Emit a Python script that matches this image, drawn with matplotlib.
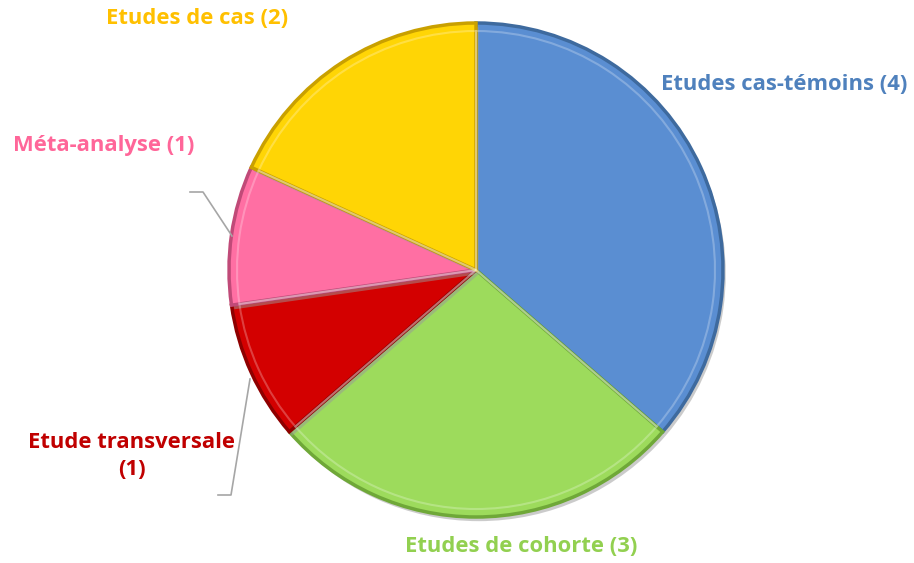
import matplotlib.pyplot as plt
import matplotlib.patheffects as pe

labels = ["Etudes cas-témoins (4)", "Etudes de cohorte (3)", "Etude transversale\n(1)",
          "Méta-analyse (1)", "Etudes de cas (2)"]
counts = [4, 3, 1, 1, 2]
slice_colors = ["#5A8ED2", "#9DDB5C", "#D30000", "#FF6FA3", "#FFD505"]
edge_colors = ["#3E6A9E", "#6FA838", "#8E0000", "#C04A78", "#C9A000"]
text_colors = ["#4F81BD", "#92D050", "#C00000", "#FF6699", "#FFC000"]

# label centres in pixel coordinates (y from top)
label_pos = [(784, 85), (521, 546), (132, 456), (104, 145), (197, 19)]

W, H = 914, 563
fig = plt.figure(figsize=(W / 100, H / 100), dpi=100)
ax = fig.add_axes([0, 0, 1, 1])

cx, cy, r = 476, H - 270, 247

wedges, _ = ax.pie(counts, colors=slice_colors, startangle=90, counterclock=False,
                   center=(cx, cy), radius=r, frame=True,
                   wedgeprops=dict(linewidth=2.5))
for w, ec in zip(wedges, edge_colors):
    w.set_edgecolor(ec)
    w.set_path_effects([pe.SimplePatchShadow(offset=(2, -3), shadow_rgbFace="#999999", alpha=0.5),
                        pe.Normal()])

# highlight bevel: a slightly smaller pie with a light thin edge
ax.pie(counts, colors=["white"] * len(counts), startangle=90, counterclock=False,
       center=(cx, cy), radius=r - 8, frame=True,
       wedgeprops=dict(linewidth=1.5, edgecolor=(1, 1, 1, 0.25), fill=False))

ax.set_xlim(0, W)
ax.set_ylim(0, H)
ax.set_aspect("equal")
ax.axis("off")

for lab, (x, y), c in zip(labels, label_pos, text_colors):
    ax.text(x, H - y, lab, color=c, fontsize=15.8, fontweight="bold", family="Open Sans",
            ha="center", va="center", linespacing=1.4)

# leader lines
ax.plot([190, 203, 232], [H - 192, H - 192, H - 236], color="#A6A6A6", lw=1.2)
ax.plot([218, 231, 250], [H - 495, H - 495, H - 379], color="#A6A6A6", lw=1.2)

fig.savefig("out.png", dpi=100)
